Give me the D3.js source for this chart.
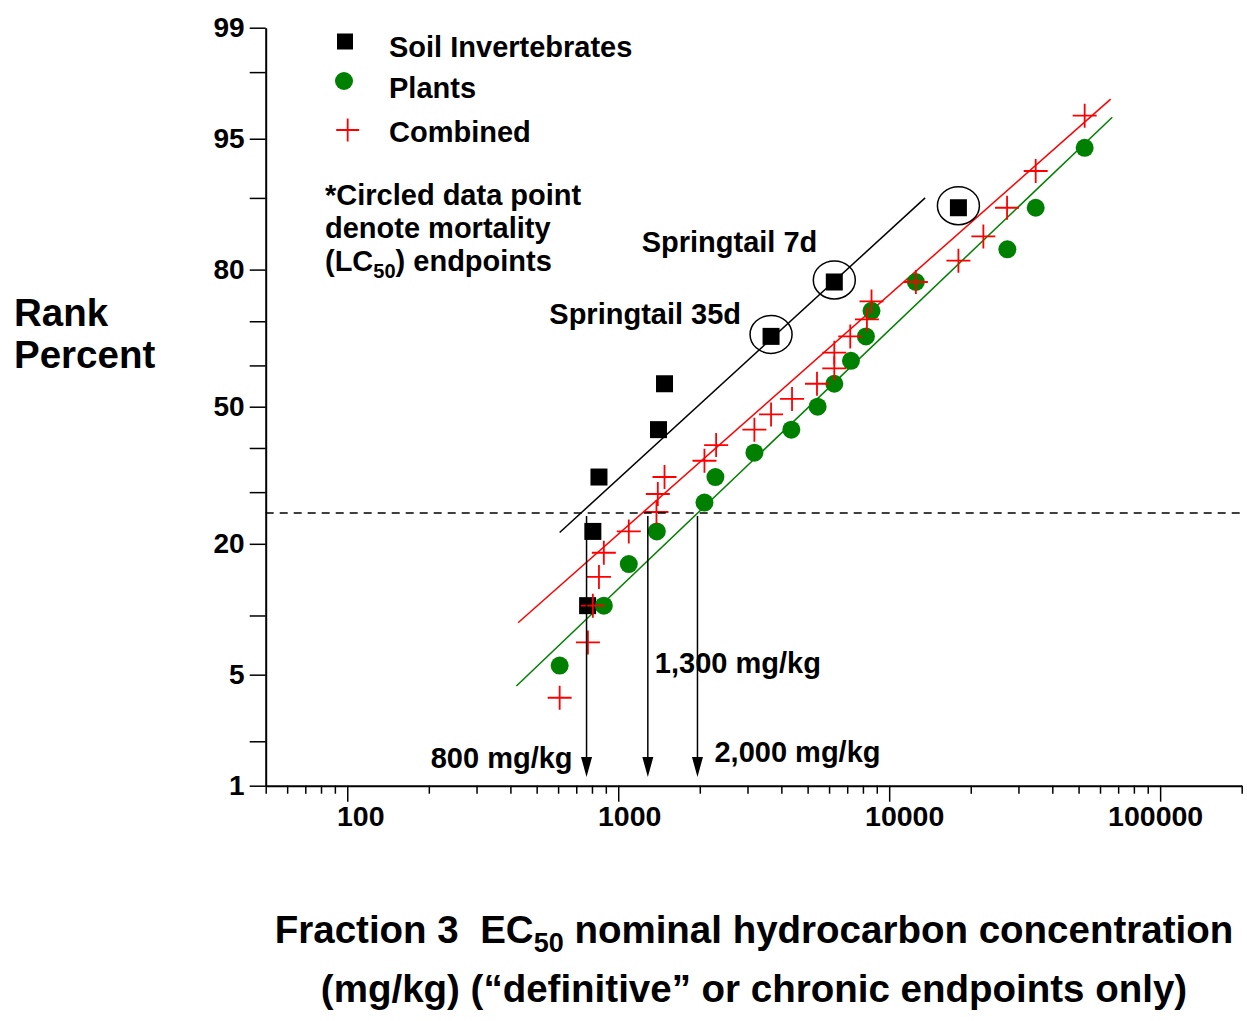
<!DOCTYPE html>
<html>
<head>
<meta charset="utf-8">
<script src="https://cdn.jsdelivr.net/npm/d3@7"></script>
<style>
  body { margin: 0; background: #fff; }
  svg text { font-family: "Liberation Sans", Arial, sans-serif; font-weight: bold; fill: #000; white-space: pre; }
</style>
</head>
<body>
<svg class="chart" width="1247" height="1021"></svg>
<script>
// EC50 values (mg/kg) and rank percent
const soilConc = [771, 806, 849, 1408, 1482, 3665, 6273, 18010]
const soilPct = [11.1, 22.2, 33.3, 44.4, 55.6, 66.7, 77.8, 88.9]
const soilCircled = [3665, 6273, 18010]

const plantConc = [608, 885, 1094, 1388, 2081, 2284, 3181, 4354, 5443, 6273, 7227, 8207, 8607, 12545, 27300, 34735, 52660]
const plantPct = [5.6, 11.1, 16.7, 22.2, 27.8, 33.3, 38.9, 44.4, 50.0, 55.6, 61.1, 66.7, 72.2, 77.8, 83.3, 88.9, 94.4]

const combConc = [608, 773, 806, 849, 885, 1094, 1384, 1400, 1482, 2081, 2298, 3181, 3665, 4380, 5415, 6273, 6273, 7184, 8277, 8607, 12545, 18011, 22265, 27230, 34735, 52660]
const combPct = [3.7, 7.4, 11.1, 14.8, 18.5, 22.2, 25.9, 29.6, 33.3, 37.0, 40.7, 44.4, 48.1, 51.9, 55.6, 59.3, 63.0, 66.7, 70.4, 74.1, 77.8, 81.5, 85.2, 88.9, 92.6, 96.3]

// fitted lines: [conc, pct] at both ends
const soilFit = [[608, 22.0], [13575, 90.0]]
const combFit = [[427, 9.24], [65680, 97.05]]
const plantFit = [[421, 4.32], [66580, 96.22]]

const hcPct = 25.7
const hcConc = [764, 1286, 1961]
const hcLabels = ['800 mg/kg', '1,300 mg/kg', '2,000 mg/kg']

const yTickPcts = [1, 2, 5, 10, 20, 30, 40, 50, 60, 70, 80, 90, 95, 98, 99]
const yLabelPcts = [1, 5, 20, 50, 80, 95, 99]
const xTicks = [50, 60, 70, 80, 90, 100, 200, 300, 400, 500, 600, 700, 800, 900,
  1000, 2000, 3000, 4000, 5000, 6000, 7000, 8000, 9000,
  10000, 20000, 30000, 40000, 50000, 60000, 70000, 80000, 90000, 100000, 200000]
const xLabels = [100, 1000, 10000, 100000]

// inverse normal cdf (Acklam)
function probit(p) {
  const a = [-3.969683028665376e+01, 2.209460984245205e+02, -2.759285104469687e+02, 1.383577518672690e+02, -3.066479806614716e+01, 2.506628277459239e+00]
  const b = [-5.447609879822406e+01, 1.615858368580409e+02, -1.556989798598866e+02, 6.680131188771972e+01, -1.328068155288572e+01]
  const c = [-7.784894002430293e-03, -3.223964580411365e-01, -2.400758277161838e+00, -2.549671010315675e+00, 4.374664141464968e+00, 2.938163982698783e+00]
  const d = [7.784695709041462e-03, 3.224671290700398e-01, 2.445134137142996e+00, 3.754408661907416e+00]
  const pl = 0.02425
  let q, r
  if (p < pl) {
    q = Math.sqrt(-2 * Math.log(p))
    return (((((c[0] * q + c[1]) * q + c[2]) * q + c[3]) * q + c[4]) * q + c[5]) / ((((d[0] * q + d[1]) * q + d[2]) * q + d[3]) * q + 1)
  }
  if (p <= 1 - pl) {
    q = p - 0.5; r = q * q
    return (((((a[0] * r + a[1]) * r + a[2]) * r + a[3]) * r + a[4]) * r + a[5]) * q / (((((b[0] * r + b[1]) * r + b[2]) * r + b[3]) * r + b[4]) * r + 1)
  }
  q = Math.sqrt(-2 * Math.log(1 - p))
  return -(((((c[0] * q + c[1]) * q + c[2]) * q + c[3]) * q + c[4]) * q + c[5]) / ((((d[0] * q + d[1]) * q + d[2]) * q + d[3]) * q + 1)
}

const svg = d3.select('.chart')
const x = d3.scaleLog().domain([50, 200000]).range([265.7, 1241.7])
const zScale = d3.scaleLinear().domain([probit(0.01), probit(0.99)]).range([785.7, 27.7])
const y = pct => zScale(probit(pct / 100))

// y axis
const yAxis = d3.axisLeft(zScale)
  .tickValues(yTickPcts.map(p => probit(p / 100)))
  .tickFormat((z, i) => yLabelPcts.includes(yTickPcts[i]) ? yTickPcts[i] : '')
  .tickSize(16).tickPadding(5).tickSizeOuter(0)
const gy = svg.append('g').attr('transform', 'translate(265.7,0)').call(yAxis)
gy.select('.domain').attr('stroke', '#000').attr('stroke-width', 2)
gy.selectAll('.tick line').attr('stroke', '#000').attr('stroke-width', 1.5)
gy.selectAll('.tick text').style('font-size', '28px').attr('font-family', null).attr('fill', '#000')

// x axis
const labelShift = { 100: 13, 1000: 11, 10000: 15, 100000: -5 }
const xAxis = d3.axisBottom(x)
  .tickValues(xTicks)
  .tickFormat(v => xLabels.includes(v) ? v : '')
  .tickSize(8).tickPadding(20).tickSizeOuter(0)
const gx = svg.append('g').attr('transform', 'translate(0,785.7)').call(xAxis)
gx.select('.domain').attr('stroke', '#000').attr('stroke-width', 2)
gx.selectAll('.tick line').attr('stroke', '#000').attr('stroke-width', 1.5)
  .attr('y2', v => xLabels.includes(v) ? 16 : 8)
gx.selectAll('.tick text').style('font-size', '28.5px').attr('font-family', null).attr('fill', '#000')
  .attr('dy', null).attr('y', 40)
  .attr('dx', v => labelShift[v] || 0)

// fitted lines
const line = d3.line().x(d => x(d[0])).y(d => y(d[1]))
svg.append('path').attr('d', line(soilFit)).attr('stroke', '#000').attr('stroke-width', 1.5).attr('fill', 'none')
svg.append('path').attr('d', line(combFit)).attr('stroke', '#ff0000').attr('stroke-width', 1.5).attr('fill', 'none')
svg.append('path').attr('d', line(plantFit)).attr('stroke', '#008000').attr('stroke-width', 1.5).attr('fill', 'none')

// soil invertebrates
const soil = soilConc.map((c, i) => ({ c: c, p: soilPct[i] }))
svg.append('g').selectAll('rect').data(soil).enter().append('rect')
  .attr('x', d => x(d.c) - 8.5).attr('y', d => y(d.p) - 8.5)
  .attr('width', 17).attr('height', 17).attr('fill', '#000')
svg.append('g').selectAll('ellipse').data(soil.filter(d => soilCircled.includes(d.c))).enter().append('ellipse')
  .attr('cx', d => x(d.c)).attr('cy', d => y(d.p) - 2)
  .attr('rx', 21).attr('ry', 19)
  .attr('fill', 'none').attr('stroke', '#000').attr('stroke-width', 1.5)

// plants
svg.append('g').selectAll('circle').data(plantConc.map((c, i) => ({ c: c, p: plantPct[i] }))).enter().append('circle')
  .attr('cx', d => x(d.c)).attr('cy', d => y(d.p)).attr('r', 9).attr('fill', '#008000')

// combined
const plus = (cx, cy, s) => `M${cx - s},${cy}H${cx + s}M${cx},${cy - s}V${cy + s}`
svg.append('g').selectAll('path').data(combConc.map((c, i) => ({ c: c, p: combPct[i] }))).enter().append('path')
  .attr('d', d => plus(x(d.c), y(d.p), 12))
  .attr('stroke', '#ff0000').attr('stroke-width', 1.8).attr('fill', 'none')

// hazard concentration line and arrows
svg.append('line').attr('x1', x(50)).attr('x2', x(200000)).attr('y1', y(hcPct)).attr('y2', y(hcPct))
  .attr('stroke', '#000').attr('stroke-width', 1.3).attr('stroke-dasharray', '8,6')
hcConc.forEach(c => {
  const ax = x(c)
  svg.append('line').attr('x1', ax).attr('x2', ax).attr('y1', y(hcPct) + 3).attr('y2', 765)
    .attr('stroke', '#000').attr('stroke-width', 1.5)
  svg.append('path').attr('d', `M${ax - 5.5},757L${ax + 5.5},757L${ax},777Z`).attr('fill', '#000')
})
const hcText = [
  { t: hcLabels[0], x: x(hcConc[0]) - 14, y: 768, a: 'end' },
  { t: hcLabels[1], x: x(hcConc[1]) + 7, y: 673, a: 'start' },
  { t: hcLabels[2], x: x(hcConc[2]) + 17, y: 762, a: 'start' }
]
hcText.forEach(d => {
  svg.append('text').attr('x', d.x).attr('y', d.y).attr('text-anchor', d.a)
    .style('font-size', '29px').text(d.t)
})

// annotations
svg.append('text').attr('x', 641.7).attr('y', 251.7).style('font-size', '29px').text('Springtail 7d')
svg.append('text').attr('x', 549.3).attr('y', 324.3).style('font-size', '29px').text('Springtail 35d')

const note = svg.append('g').style('font-size', '29px')
note.append('text').attr('x', 325).attr('y', 205).text('*Circled data point')
note.append('text').attr('x', 325).attr('y', 238.3).text('denote mortality')
const n3 = note.append('text').attr('x', 325).attr('y', 270.7)
n3.append('tspan').text('(LC')
n3.append('tspan').attr('dy', 7).style('font-size', '20px').text('50')
n3.append('tspan').attr('dy', -7).text(') endpoints')

// legend
const lg = svg.append('g')
lg.append('rect').attr('x', 337).attr('y', 33.5).attr('width', 16).attr('height', 16).attr('fill', '#000')
lg.append('circle').attr('cx', 344).attr('cy', 81).attr('r', 9).attr('fill', '#008000')
lg.append('path').attr('d', plus(347.7, 130, 11.5)).attr('stroke', '#ff0000').attr('stroke-width', 1.8)
const legText = ['Soil Invertebrates', 'Plants', 'Combined']
const legY = [57.3, 98.3, 141.7]
legText.forEach((t, i) => {
  lg.append('text').attr('x', 389).attr('y', legY[i]).style('font-size', '29px').text(t)
})

// axis titles
svg.append('text').attr('x', 14).attr('y', 326).style('font-size', '38.5px').text('Rank')
svg.append('text').attr('x', 14).attr('y', 368).style('font-size', '38.5px').text('Percent')

const t1 = svg.append('text').attr('x', 754).attr('y', 943).attr('text-anchor', 'middle').style('font-size', '38.5px')
t1.append('tspan').text('Fraction 3  EC')
t1.append('tspan').attr('dy', 9).style('font-size', '27px').text('50')
t1.append('tspan').attr('dy', -9).text(' nominal hydrocarbon concentration')
svg.append('text').attr('x', 754).attr('y', 1002).attr('text-anchor', 'middle').style('font-size', '38.5px')
  .text('(mg/kg) (\u201cdefinitive\u201d or chronic endpoints only)')
</script>
</body>
</html>
